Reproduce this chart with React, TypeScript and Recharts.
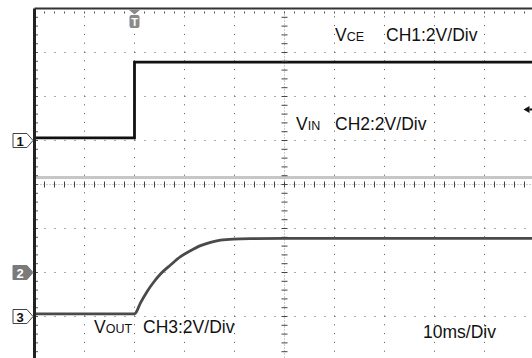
import React from 'react';
import { ComposedChart, Line, XAxis, YAxis, ReferenceLine, ReferenceDot } from 'recharts';

// ---- data (time in ms, values in volts) ----
const vceTime = [0, 20, 20, 100];
const vceVolts = [0.12, 0.12, 3.56, 3.56];

const vinTime = [0, 100];
const vinVolts = [4.32, 4.32];

const voutTime = [0, 20, 20.2, 21.2, 22.5, 23.9, 25.2, 27.2, 29.2, 31.2, 33.2, 35.2, 37.2, 39.8, 43.8, 50, 100];
const voutVolts = [0.12, 0.12, 0.15, 0.62, 1.13, 1.58, 1.93, 2.34, 2.72, 2.99, 3.22, 3.37, 3.47, 3.52, 3.54, 3.55, 3.55];

const channelNames = ['1', '2', '3'];
const channelOffsetsDiv = [1, -2, -3];
const voltsPerDiv = 2;
const triggerTimeMs = 20;
const triggerLevelV = 1.41;

const xDivs = [10, 20, 30, 40, 60, 70, 80, 90];
const yDivs = [-3, -2, -1, 1, 2, 3];
const xMinor = Array.from({ length: 49 }, (_, i) => (i + 1) * 2);
const yMinor = Array.from({ length: 39 }, (_, i) => -4 + (i + 1) * 0.2);

const toSeries = (times: number[], volts: number[], ch: number) =>
  times.map((t, i) => ({ t, v: volts[i] / voltsPerDiv + channelOffsetsDiv[ch] }));

const vceData = toSeries(vceTime, vceVolts, 0);
const vinData = toSeries(vinTime, vinVolts, 1);
const voutData = toSeries(voutTime, voutVolts, 2);

const FONT = '"Liberation Sans", Arial, sans-serif';

const tick = (dx1: number, dy1: number, dx2: number, dy2: number, color: string) => (p: any) => (
  <line x1={p.cx + dx1} y1={p.cy + dy1} x2={p.cx + dx2} y2={p.cy + dy2} stroke={color} strokeWidth={1} />
);

const markerShape = (label: string, filled: boolean) => (p: any) => {
  const tip = p.cx - 1.5;
  const cy = p.cy;
  const left = tip - 20;
  const d = `M${tip},${cy} L${tip - 6},${cy - 7} L${left},${cy - 7} L${left},${cy + 7} L${tip - 6},${cy + 7} Z`;
  return (
    <g>
      <path d={d} fill={filled ? '#7a7a7a' : '#ffffff'} stroke={filled ? '#7a7a7a' : '#444'} strokeWidth={1} />
      <text x={left + 7} y={cy + 5} textAnchor="middle" fontFamily={FONT} fontWeight="bold" fontSize={13} fill={filled ? '#fff' : '#111'}>
        {label}
      </text>
    </g>
  );
};

const triggerShape = (p: any) => {
  const cx = p.cx;
  const top = p.cy + 1;
  return (
    <g>
      <path d={`M${cx - 6},${top} L${cx + 6},${top} L${cx},${top + 5} Z`} fill="#8a8a8a" />
      <rect x={cx - 5} y={top + 5.5} width={10} height={13} rx={2} fill="#8a8a8a" />
      <text x={cx} y={top + 16.5} textAnchor="middle" fontFamily={FONT} fontWeight="bold" fontSize={11} fill="#fff">T</text>
    </g>
  );
};

const levelShape = (p: any) => {
  const tipX = p.cx - 11;
  const cy = p.cy;
  return (
    <g>
      <path d={`M${tipX},${cy} L${tipX + 6},${cy - 3.5} L${tipX + 6},${cy + 3.5} Z`} fill="#111" />
      <rect x={tipX + 6} y={cy - 1} width={3} height={2} fill="#111" />
    </g>
  );
};

export default function App() {
  return (
    <div style={{ position: 'absolute', left: 0, top: 0, width: 532, height: 358, overflow: 'hidden', background: '#fff' }}>
      <ComposedChart width={535} height={362} margin={{ top: 8.5, left: 34.5, right: 0.5, bottom: 1.5 }}>
        <XAxis type="number" dataKey="t" domain={[0, 100]} hide allowDataOverflow />
        <YAxis type="number" domain={[-4, 4]} hide width={0} allowDataOverflow />

        {xDivs.map((x) => (
          <ReferenceLine key={'gx' + x} x={x} stroke="#555" strokeDasharray="1 7.8" />
        ))}
        {yDivs.map((y) => (
          <ReferenceLine key={'gy' + y} y={y} stroke="#555" strokeDasharray="1 9" />
        ))}
        <ReferenceLine x={50} stroke="#999" strokeDasharray="1 2" />
        <ReferenceLine y={0} stroke="#999" strokeDasharray="1 2" />
        {yMinor.map((y) => (
          <ReferenceDot key={'cy' + y} x={50} y={y} r={0} shape={tick(-3, 0, 3, 0, '#444')} />
        ))}
        {xMinor.map((x) => (
          <ReferenceDot key={'cx' + x} x={x} y={0} r={0} shape={tick(0, -3, 0, 3, '#444')} />
        ))}
        {yMinor.map((y) => (
          <ReferenceDot key={'ly' + y} x={0} y={y} r={0} shape={tick(1.5, 0, 3.5, 0, '#555')} />
        ))}
        {xMinor.map((x) => (
          <ReferenceDot key={'tx' + x} x={x} y={4} r={0} shape={tick(0, 3, 0, 5, '#555')} />
        ))}

        <Line data={vinData} dataKey="v" type="linear" stroke="#c6c6c6" strokeWidth={3} dot={false} isAnimationActive={false} />
        <Line data={voutData} dataKey="v" type="monotone" stroke="#4a4a4a" strokeWidth={2.8} dot={false} isAnimationActive={false} />
        <Line data={vceData} dataKey="v" type="linear" stroke="#111" strokeWidth={2.8} dot={false} isAnimationActive={false} />

        <ReferenceLine x={0} stroke="#222" strokeWidth={3} />
        <ReferenceLine y={4} stroke="#333" strokeWidth={2} />

        {channelNames.map((name, i) => (
          <ReferenceDot key={'m' + name} x={0} y={channelOffsetsDiv[i]} r={0} ifOverflow="visible" shape={markerShape(name, i === 1)} />
        ))}
        <ReferenceDot x={triggerTimeMs} y={4} r={0} ifOverflow="visible" shape={triggerShape} />
        <ReferenceDot x={100} y={triggerLevelV / voltsPerDiv + channelOffsetsDiv[0]} r={0} ifOverflow="visible" shape={levelShape} />
      </ComposedChart>

      <svg width={532} height={358} style={{ position: 'absolute', left: 0, top: 0, pointerEvents: 'none' }}>
        <g fontFamily={FONT} fill="#111">
          <text x={335} y={41} fontSize={17.5}>V<tspan fontSize={12.5}>CE</tspan></text>
          <text x={386} y={41} fontSize={17.5}>CH1:2V/Div</text>
          <text x={296} y={130} fontSize={17.5}>V<tspan fontSize={12.5}>IN</tspan></text>
          <text x={335} y={130} fontSize={17.5}>CH2:2V/Div</text>
          <text x={94} y={333} fontSize={17.5}>V<tspan fontSize={12.5}>OUT</tspan></text>
          <text x={143} y={333} fontSize={17.5}>CH3:2V/Div</text>
          <text x={423} y={338} fontSize={17.5}>10ms/Div</text>
        </g>
      </svg>
    </div>
  );
}
